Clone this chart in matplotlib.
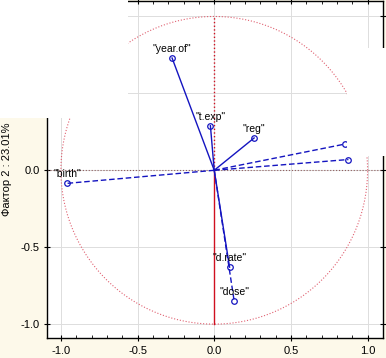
import numpy as np
import matplotlib.pyplot as plt
from matplotlib.patches import Rectangle

# factor loadings (factor 1, factor 2)
names = ['"year.of"', '"t.exp"', '"reg"', '', '', '"birth"', '"d.rate"', '"dose"']
f1 = [-0.275, -0.025, 0.26, 0.85, 0.875, -0.96, 0.10, 0.13]
f2 = [0.73, 0.29, 0.21, 0.17, 0.07, -0.085, -0.63, -0.85]
dashed = [False, False, False, True, True, True, False, True]

blue = '#1414c0'

plt.rcParams['font.family'] = ['Liberation Sans', 'DejaVu Sans']
fig = plt.figure(figsize=(3.86, 3.58), dpi=100, facecolor='#fdf9ea')
ax = fig.add_axes([0.122, 0.056, 0.87, 0.941])
ax.set_facecolor('white')

t = np.linspace(0, 2*np.pi, 400)
ax.plot(np.cos(t), np.sin(t), color='#e06070', ls=':', lw=0.8)
ax.axhline(0, color='#906060', ls=':', lw=0.8)
ax.plot([0, 0], [-1, 0], color='#d01020', lw=1.0)
ax.plot([0, 0], [0, 1], color='#d01020', ls=':', lw=1.0)

for n, x, y, d in zip(names, f1, f2, dashed):
    ax.plot([0, x], [0, y], color=blue, lw=1.0, ls=(0, (4, 2)) if d else '-')
    ax.plot(x, y, 'o', mfc='none', mec=blue, ms=4, mew=0.9)
    if n:
        ax.annotate(n, (x, y), xytext=(0, 3), textcoords='offset points',
                    ha='center', va='bottom', fontsize=7.5)

ax.set_xlim(-1.09, 1.10)
ax.set_ylim(-1.09, 1.10)
ax.set_xticks([-1.0, -0.5, 0.0, 0.5, 1.0])
ax.set_yticks([-1.0, -0.5, 0.0, 0.5, 1.0])
ax.set_xticks(np.arange(-1.0, 1.05, 0.1), minor=True)
ax.xaxis.set_major_formatter(plt.FormatStrFormatter('%.1f'))
ax.yaxis.set_major_formatter(plt.FormatStrFormatter('%.1f'))
ax.tick_params(labelsize=8, direction='inout', length=4, top=True, right=True)
ax.tick_params(which='minor', direction='in', length=2, top=True)
ax.grid(color='#dddddd', lw=0.7)
ax.set_axisbelow(True)
for s in ax.spines.values():
    s.set_linewidth(1.0)
ax.set_ylabel('Фактор 2 : 23.01%', fontsize=8, labelpad=6)

# blank patches that hide parts of the original screenshot
fig.patches.append(Rectangle((0, 1 - 118/358), 128/386, 118/358, transform=fig.transFigure,
                             facecolor='white', edgecolor='none', zorder=10))
fig.patches.append(Rectangle((347/386, 1 - 156/358), 39/386, 108/358, transform=fig.transFigure,
                             facecolor='white', edgecolor='none', zorder=10))

fig.savefig('out.png', dpi=100, facecolor=fig.get_facecolor())
